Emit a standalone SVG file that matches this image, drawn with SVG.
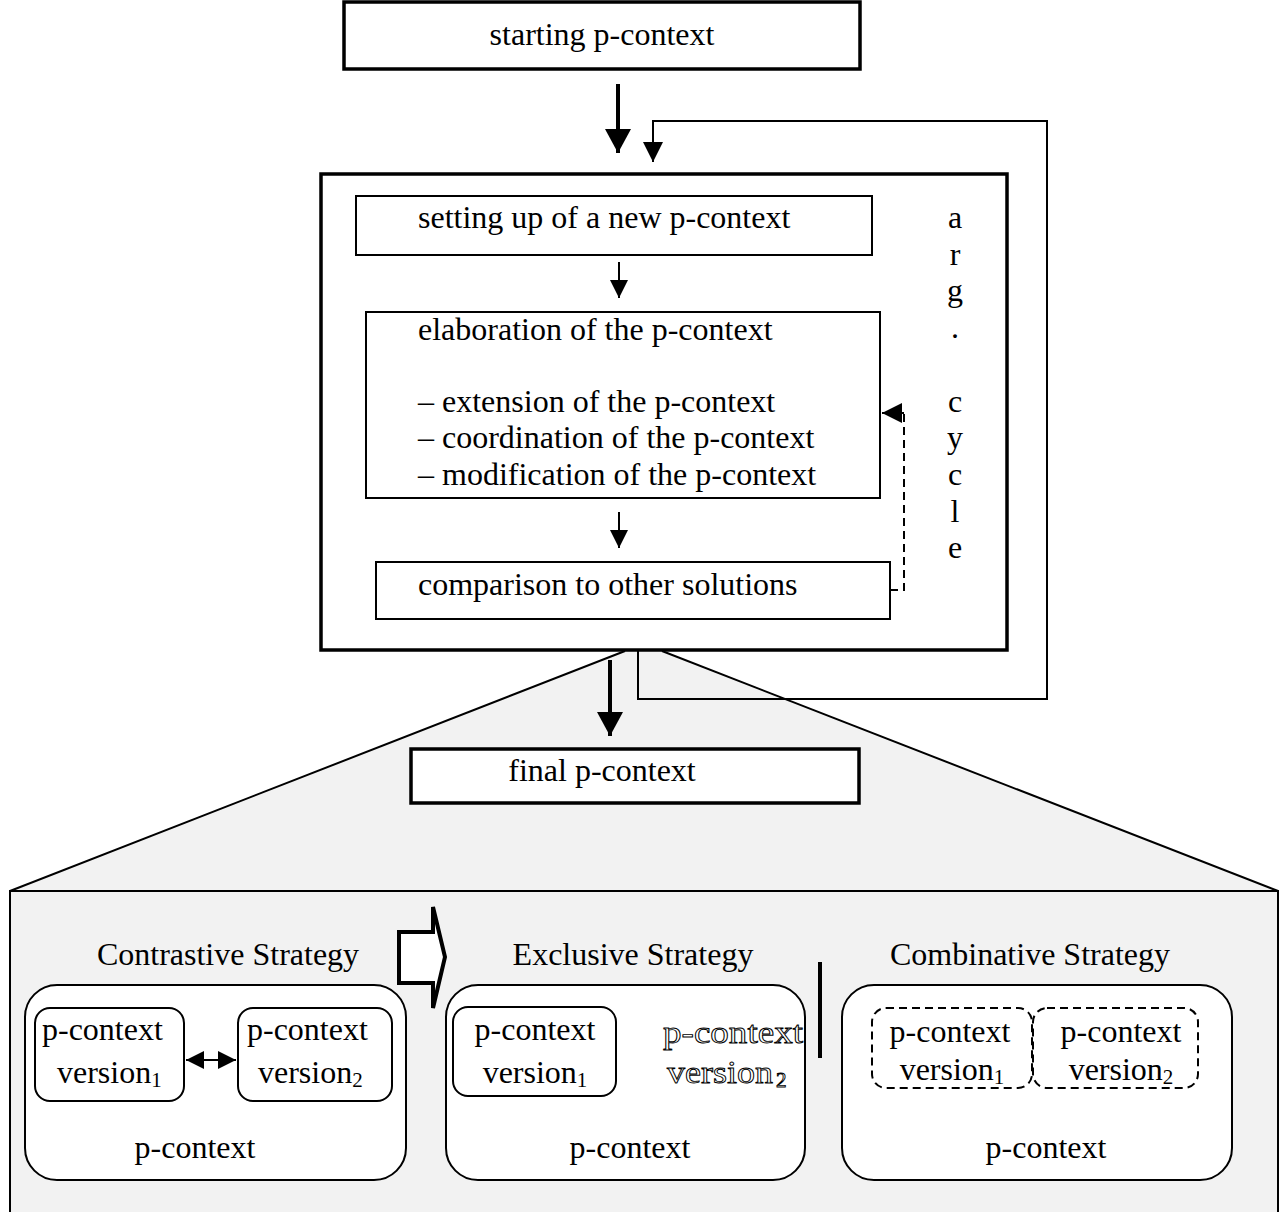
<svg xmlns="http://www.w3.org/2000/svg" width="1283" height="1212" viewBox="0 0 1283 1212">
<style>
  text { font-family: "Liberation Serif", "Times New Roman", serif; font-size: 32px; fill: #000; }
  .c { text-anchor: middle; }
  .thick { fill: #fff; stroke: #000; stroke-width: 3.5; }
  .thin { fill: #fff; stroke: #000; stroke-width: 2; }
  .line { fill: none; stroke: #000; stroke-width: 2; }
  .dash { fill: none; stroke: #000; stroke-width: 2; stroke-dasharray: 8 5; }
  .sub { font-size: 21px; }
  .outline { fill: #fff; stroke: #000; stroke-width: 0.9; }
</style>
<defs>
  <marker id="mBig" markerUnits="userSpaceOnUse" markerWidth="26" markerHeight="26" refX="24" refY="13" orient="auto" overflow="visible">
    <path d="M0,0 L24,13 L0,26 z" fill="#000"/>
  </marker>
  <marker id="mSmall" markerUnits="userSpaceOnUse" markerWidth="20" markerHeight="20" refX="20" refY="10" orient="auto" overflow="visible">
    <path d="M0,0 L20,10 L0,20 z" fill="#000"/>
  </marker>
  <marker id="mSmallStart" markerUnits="userSpaceOnUse" markerWidth="18" markerHeight="18" refX="0" refY="9" orient="auto" overflow="visible">
    <path d="M18,0 L0,9 L18,18 z" fill="#000"/>
  </marker>
  <marker id="mTiny" markerUnits="userSpaceOnUse" markerWidth="18" markerHeight="18" refX="18" refY="9" orient="auto" overflow="visible">
    <path d="M0,0 L18,9 L0,18 z" fill="#000"/>
  </marker>
</defs>

<!-- gray zoom area -->
<g id="zoom-area">
  <polygon points="625,651 662,651 1278,891 10,891" fill="#f2f2f2"/>
  <rect x="10" y="891" width="1268" height="340" fill="#f2f2f2" stroke="#000" stroke-width="2"/>
  <line x1="625" y1="651" x2="10" y2="891" class="line"/>
  <line x1="662" y1="651" x2="1278" y2="891" class="line"/>
</g>

<g id="starting">
  <rect x="344" y="2" width="516" height="67" class="thick"/>
  <text x="602" y="45" class="c">starting p-context</text>
</g>

<g id="arg-cycle">
  <rect x="321" y="174" width="686" height="476" class="thick"/>
  <text x="955" y="228" class="c">a<tspan x="955" dy="36.7">r</tspan><tspan x="955" dy="36.7">g</tspan><tspan x="955" dy="36.7">.</tspan><tspan x="955" dy="73.4">c</tspan><tspan x="955" dy="36.7">y</tspan><tspan x="955" dy="36.7">c</tspan><tspan x="955" dy="36.7">l</tspan><tspan x="955" dy="36.7">e</tspan></text>
</g>

<g id="setting-up">
  <rect x="356" y="196" width="516" height="59" class="thin"/>
  <text x="418" y="228">setting up of a new p-context</text>
</g>

<g id="elaboration">
  <rect x="366" y="312" width="514" height="186" class="thin"/>
  <text x="418" y="340">elaboration of the p-context</text>
  <text x="418" y="412">– extension of the p-context</text>
  <text x="418" y="448">– coordination of the p-context</text>
  <text x="418" y="485">– modification of the p-context</text>
</g>

<g id="comparison">
  <rect x="376" y="562" width="514" height="57" class="thin"/>
  <text x="418" y="595">comparison to other solutions</text>
</g>

<g id="final">
  <rect x="411" y="749" width="448" height="54" class="thick"/>
  <text x="602" y="781" class="c">final p-context</text>
</g>

<g id="contrastive">
  <text x="228" y="965" class="c">Contrastive Strategy</text>
  <rect x="25" y="985" width="381" height="195" rx="32" class="thin"/>
  <rect x="35" y="1008" width="149" height="93" rx="15" class="thin"/>
  <text x="42" y="1040">p-context</text>
  <text x="57" y="1083">version<tspan class="sub" dy="4">1</tspan></text>
  <rect x="238" y="1008" width="154" height="93" rx="15" class="thin"/>
  <text x="247" y="1040">p-context</text>
  <text x="258" y="1083">version<tspan class="sub" dy="4">2</tspan></text>
  <text x="195" y="1158" class="c">p-context</text>
</g>

<g id="exclusive">
  <text x="633" y="965" class="c">Exclusive Strategy</text>
  <rect x="446" y="985" width="359" height="195" rx="32" class="thin"/>
  <rect x="453" y="1007" width="163" height="89" rx="15" class="thin"/>
  <text x="535" y="1040" class="c">p-context</text>
  <text x="535" y="1083" class="c">version<tspan class="sub" dy="4">1</tspan></text>
  <text x="663" y="1043" class="outline" textLength="140" lengthAdjust="spacingAndGlyphs">p-context</text>
  <text x="667" y="1083" class="outline" textLength="106" lengthAdjust="spacingAndGlyphs">version</text>
  <text x="776" y="1087" class="outline sub">2</text>
  <text x="630" y="1158" class="c">p-context</text>
</g>

<g id="combinative">
  <text x="1030" y="965" class="c">Combinative Strategy</text>
  <rect x="842" y="985" width="390" height="195" rx="32" class="thin"/>
  <rect x="872" y="1008" width="160" height="80" rx="14" class="dash"/>
  <rect x="1033" y="1008" width="165" height="80" rx="14" class="dash"/>
  <text x="950" y="1042" class="c">p-context</text>
  <text x="952" y="1080" class="c">version<tspan class="sub" dy="4">1</tspan></text>
  <text x="1121" y="1042" class="c">p-context</text>
  <text x="1121" y="1080" class="c">version<tspan class="sub" dy="4">2</tspan></text>
  <text x="1046" y="1158" class="c">p-context</text>
</g>

<g id="connectors">
  <line x1="618" y1="84" x2="618" y2="153" stroke="#000" stroke-width="4" marker-end="url(#mBig)"/>
  <path d="M638,651 V699 H1047 V121 H653 V162" class="line" marker-end="url(#mSmall)"/>
  <line x1="619" y1="262" x2="619" y2="298" class="line" marker-end="url(#mTiny)"/>
  <line x1="619" y1="512" x2="619" y2="548" class="line" marker-end="url(#mTiny)"/>
  <path d="M890,590 H904 V413" class="dash"/>
  <line x1="904" y1="413" x2="882" y2="413" class="line" marker-end="url(#mSmall)"/>
  <line x1="610" y1="660" x2="610" y2="736" stroke="#000" stroke-width="4" marker-end="url(#mBig)"/>
  <line x1="186" y1="1060" x2="236" y2="1060" class="line" marker-start="url(#mSmallStart)" marker-end="url(#mTiny)"/>
  <polygon points="399,932 433,932 433,907 445,957 433,1008 433,983 399,983" fill="#fff" stroke="#000" stroke-width="4"/>
  <line x1="820" y1="962" x2="820" y2="1058" stroke="#000" stroke-width="4"/>
</g>
</svg>
